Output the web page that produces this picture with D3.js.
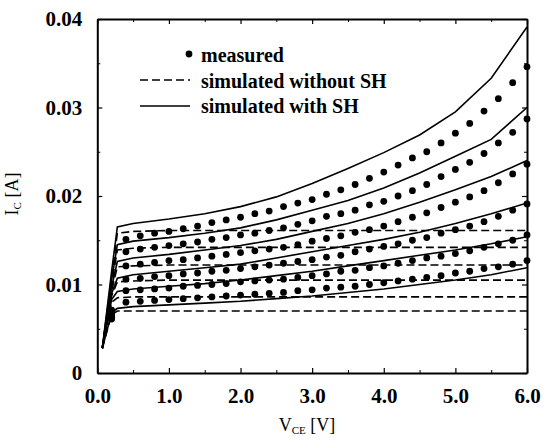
<!DOCTYPE html>
<html>
<head>
<meta charset="utf-8">
<script src="https://cdn.jsdelivr.net/npm/d3@7"></script>
<style>
  body { margin: 0; background: #fff; }
  svg { display: block; }
  text { font-family: "Liberation Serif", "Times New Roman", serif; fill: #000; }
</style>
</head>
<body>
<div id="chart"></div>
<script>
var width = 545, height = 440;

// measured points: V_CE [V]
var measV = [0.2, 0.4, 0.6, 0.8, 1.0, 1.2, 1.4, 1.6, 1.8, 2.0, 2.2, 2.4, 2.6, 2.8, 3.0,
             3.2, 3.4, 3.6, 3.8, 4.0, 4.2, 4.4, 4.6, 4.8, 5.0, 5.2, 5.4, 5.6, 5.8, 6.0];
// measured I_C [A], one array per base current
var meas1 = [0.0071, 0.0151, 0.0155, 0.0158, 0.0160, 0.0163, 0.0166, 0.0170, 0.0173, 0.0176, 0.0180, 0.0183, 0.0188, 0.0192, 0.0196,
             0.0202, 0.0207, 0.0213, 0.0220, 0.0227, 0.0235, 0.0243, 0.0250, 0.0260, 0.0271, 0.0282, 0.0296, 0.0310, 0.0328, 0.0346];
var meas2 = [0.0069, 0.0137, 0.0140, 0.0142, 0.0144, 0.0146, 0.0148, 0.0151, 0.0153, 0.0156, 0.0158, 0.0161, 0.0164, 0.0168, 0.0172,
             0.0177, 0.0180, 0.0184, 0.0190, 0.0194, 0.0200, 0.0206, 0.0213, 0.0222, 0.0230, 0.0238, 0.0248, 0.0260, 0.0272, 0.0287];
var meas3 = [0.0067, 0.0121, 0.0123, 0.0125, 0.0127, 0.0128, 0.0130, 0.0132, 0.0134, 0.0136, 0.0138, 0.0140, 0.0142, 0.0145, 0.0149,
             0.0152, 0.0155, 0.0159, 0.0162, 0.0166, 0.0171, 0.0176, 0.0181, 0.0187, 0.0193, 0.0199, 0.0206, 0.0215, 0.0225, 0.0236];
var meas4 = [0.0065, 0.0106, 0.0107, 0.0109, 0.0110, 0.0112, 0.0113, 0.0115, 0.0116, 0.0118, 0.0120, 0.0122, 0.0124, 0.0126, 0.0128,
             0.0131, 0.0133, 0.0137, 0.0140, 0.0143, 0.0146, 0.0150, 0.0153, 0.0158, 0.0162, 0.0166, 0.0171, 0.0177, 0.0184, 0.0191];
var meas5 = [0.0063, 0.0093, 0.0094, 0.0095, 0.0096, 0.0098, 0.0099, 0.0100, 0.0101, 0.0103, 0.0104, 0.0105, 0.0106, 0.0108, 0.0110,
             0.0112, 0.0115, 0.0116, 0.0119, 0.0121, 0.0124, 0.0127, 0.0130, 0.0132, 0.0135, 0.0138, 0.0142, 0.0146, 0.0150, 0.0156];
var meas6 = [0.0061, 0.0080, 0.0081, 0.0082, 0.0083, 0.0084, 0.0085, 0.0086, 0.0087, 0.0088, 0.0089, 0.0090, 0.0091, 0.0093, 0.0094,
             0.0096, 0.0097, 0.0098, 0.0100, 0.0102, 0.0104, 0.0106, 0.0108, 0.0110, 0.0113, 0.0115, 0.0118, 0.0120, 0.0123, 0.0127];

// simulated curves share one V_CE grid
var simV = [0.07, 0.2, 0.28, 0.5, 1.0, 1.5, 2.0, 2.5, 3.0, 3.5, 4.0, 4.5, 5.0, 5.5, 6.0];
// with self-heating (solid)
var withSH1 = [0.0028, 0.0115, 0.0165, 0.0169, 0.0174, 0.0180, 0.0188, 0.0199, 0.0214, 0.0231, 0.0249, 0.0269, 0.0295, 0.0333, 0.0391];
var withSH2 = [0.0028, 0.0105, 0.0145, 0.0149, 0.0153, 0.0158, 0.0164, 0.0173, 0.0184, 0.0195, 0.0209, 0.0226, 0.0245, 0.0264, 0.0300];
var withSH3 = [0.0028, 0.0097, 0.0126, 0.0130, 0.0134, 0.0139, 0.0144, 0.0151, 0.0160, 0.0169, 0.0180, 0.0193, 0.0207, 0.0222, 0.0240];
var withSH4 = [0.0028, 0.0090, 0.0107, 0.0111, 0.0115, 0.0119, 0.0123, 0.0130, 0.0137, 0.0144, 0.0151, 0.0159, 0.0169, 0.0180, 0.0192];
var withSH5 = [0.0028, 0.0083, 0.0092, 0.0095, 0.0098, 0.0101, 0.0105, 0.0110, 0.0115, 0.0121, 0.0127, 0.0133, 0.0139, 0.0146, 0.0154];
var withSH6 = [0.0028, 0.0068, 0.0073, 0.0075, 0.0077, 0.0079, 0.0081, 0.0084, 0.0087, 0.0091, 0.0095, 0.0100, 0.0105, 0.0111, 0.0119];
// without self-heating (dashed)
var noSH1 = [0.0028, 0.0108, 0.0158, 0.0160, 0.0161, 0.0161, 0.0161, 0.0161, 0.0161, 0.0161, 0.0161, 0.0161, 0.0161, 0.0161, 0.0161];
var noSH2 = [0.0028, 0.0100, 0.0139, 0.0141, 0.0142, 0.0142, 0.0142, 0.0142, 0.0142, 0.0142, 0.0142, 0.0142, 0.0142, 0.0142, 0.0142];
var noSH3 = [0.0028, 0.0093, 0.0120, 0.0121, 0.0122, 0.0122, 0.0122, 0.0122, 0.0122, 0.0122, 0.0122, 0.0122, 0.0122, 0.0122, 0.0122];
var noSH4 = [0.0028, 0.0087, 0.0103, 0.0104, 0.0105, 0.0105, 0.0105, 0.0105, 0.0105, 0.0105, 0.0105, 0.0105, 0.0105, 0.0105, 0.0105];
var noSH5 = [0.0028, 0.0080, 0.0085, 0.0086, 0.0086, 0.0086, 0.0086, 0.0086, 0.0086, 0.0086, 0.0086, 0.0086, 0.0086, 0.0086, 0.0086];
var noSH6 = [0.0028, 0.0066, 0.0070, 0.0070, 0.0070, 0.0070, 0.0070, 0.0070, 0.0070, 0.0070, 0.0070, 0.0070, 0.0070, 0.0070, 0.0070];

var xTicks = [0, 1, 2, 3, 4, 5, 6];
var xTickLabels = ["0.0", "1.0", "2.0", "3.0", "4.0", "5.0", "6.0"];
var yTicks = [0, 0.01, 0.02, 0.03, 0.04];
var yTickLabels = ["0", "0.01", "0.02", "0.03", "0.04"];
var legendLabels = ["measured", "simulated without SH", "simulated with SH"];

var svg = d3.select("#chart").append("svg")
  .attr("width", width)
  .attr("height", height);

var x = d3.scaleLinear().domain([0, 6]).range([97.3, 527]);
var y = d3.scaleLinear().domain([0, 0.04]).range([373, 19]);

var line = d3.line()
  .x(function (d) { return x(d[0]); })
  .y(function (d) { return y(d[1]); });

function pairs(vs, is) {
  return vs.map(function (v, i) { return [v, is[i]]; });
}

var plot = svg.append("g");

// dashed: simulated without SH
[noSH1, noSH2, noSH3, noSH4, noSH5, noSH6].forEach(function (s) {
  plot.append("path")
    .attr("d", line(pairs(simV, s)))
    .attr("fill", "none")
    .attr("stroke", "#000")
    .attr("stroke-width", 1.6)
    .attr("stroke-dasharray", "8,4");
});

// solid: simulated with SH
[withSH1, withSH2, withSH3, withSH4, withSH5, withSH6].forEach(function (s) {
  plot.append("path")
    .attr("d", line(pairs(simV, s)))
    .attr("fill", "none")
    .attr("stroke", "#000")
    .attr("stroke-width", 1.6);
});

// measured dots
[meas1, meas2, meas3, meas4, meas5, meas6].forEach(function (s) {
  plot.selectAll(null)
    .data(pairs(measV, s))
    .enter().append("circle")
    .attr("cx", function (d) { return x(d[0]); })
    .attr("cy", function (d) { return y(d[1]); })
    .attr("r", 3.4)
    .attr("fill", "#000");
});

// axes, ticks pointing inward on all four sides
function styleAxis(g) {
  g.select(".domain").attr("stroke-width", 2);
  g.selectAll(".tick line").attr("stroke-width", 1.2);
  g.selectAll(".tick text")
    .style("font-family", "'Liberation Serif', serif")
    .style("font-weight", "bold")
    .style("font-size", "21px")
    .attr("fill", "#000");
}

var xMinor = [0.5, 1.5, 2.5, 3.5, 4.5, 5.5];
var yMinor = [0.005, 0.015, 0.025, 0.035];

svg.append("g")
  .attr("transform", "translate(0,373)")
  .call(d3.axisBottom(x).tickValues(xTicks).tickSize(-5).tickSizeOuter(0).tickPadding(15)
    .tickFormat(function (d, i) { return xTickLabels[i]; }))
  .call(styleAxis);
svg.append("g")
  .attr("transform", "translate(0,373)")
  .call(d3.axisBottom(x).tickValues(xMinor).tickSize(-3).tickFormat(""))
  .call(function (g) { g.select(".domain").remove(); });

svg.append("g")
  .attr("transform", "translate(0,19)")
  .call(d3.axisTop(x).tickValues(xTicks).tickSize(-5).tickSizeOuter(0).tickFormat(""))
  .call(styleAxis);
svg.append("g")
  .attr("transform", "translate(0,19)")
  .call(d3.axisTop(x).tickValues(xMinor).tickSize(-3).tickFormat(""))
  .call(function (g) { g.select(".domain").remove(); });

svg.append("g")
  .attr("transform", "translate(97.3,0)")
  .call(d3.axisLeft(y).tickValues(yTicks).tickSize(-5).tickSizeOuter(0).tickPadding(15)
    .tickFormat(function (d, i) { return yTickLabels[i]; }))
  .call(styleAxis);
svg.append("g")
  .attr("transform", "translate(97.3,0)")
  .call(d3.axisLeft(y).tickValues(yMinor).tickSize(-3).tickFormat(""))
  .call(function (g) { g.select(".domain").remove(); });

svg.append("g")
  .attr("transform", "translate(527,0)")
  .call(d3.axisRight(y).tickValues(yTicks).tickSize(-5).tickSizeOuter(0).tickFormat(""))
  .call(styleAxis);
svg.append("g")
  .attr("transform", "translate(527,0)")
  .call(d3.axisRight(y).tickValues(yMinor).tickSize(-3).tickFormat(""))
  .call(function (g) { g.select(".domain").remove(); });

// axis titles
var xTitle = svg.append("text")
  .attr("x", 307)
  .attr("y", 431)
  .attr("text-anchor", "middle")
  .style("font-size", "18px");
xTitle.append("tspan").text("V");
xTitle.append("tspan").attr("dy", 3).style("font-size", "11px").text("CE");
xTitle.append("tspan").attr("dy", -3).text(" [V]");

var yTitle = svg.append("text")
  .attr("transform", "translate(18,194) rotate(-90)")
  .attr("text-anchor", "middle")
  .style("font-size", "18px");
yTitle.append("tspan").text("I");
yTitle.append("tspan").attr("dy", 3).style("font-size", "11px").text("C");
yTitle.append("tspan").attr("dy", -3).text(" [A]");

// legend
var legend = svg.append("g");
legend.append("circle").attr("cx", 189).attr("cy", 54).attr("r", 3.4).attr("fill", "#000");
legend.append("line").attr("x1", 140).attr("x2", 190).attr("y1", 80).attr("y2", 80)
  .attr("stroke", "#000").attr("stroke-width", 1.6).attr("stroke-dasharray", "8,4");
legend.append("line").attr("x1", 140).attr("x2", 190).attr("y1", 106).attr("y2", 106)
  .attr("stroke", "#000").attr("stroke-width", 1.6);
legend.selectAll("text.lg")
  .data(legendLabels)
  .enter().append("text")
  .attr("class", "lg")
  .attr("x", 201)
  .attr("y", function (d, i) { return 62 + i * 25.5; })
  .style("font-size", "20px")
  .style("font-weight", "bold")
  .text(function (d) { return d; });
</script>
</body>
</html>
